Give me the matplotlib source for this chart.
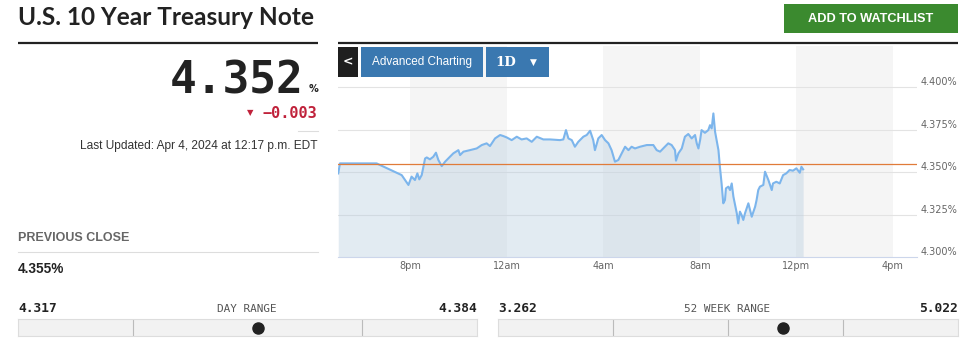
import matplotlib
matplotlib.use("Agg")
import matplotlib.pyplot as plt
from matplotlib.patches import Rectangle
from matplotlib.transforms import blended_transform_factory

# --- data (hours after 5pm Apr 3, yield in %) ---
t_hours = [0.01, 0.08, 1.60, 2.64, 2.92, 3.05, 3.19, 3.29, 3.37, 3.47, 3.61, 3.68,
           3.81, 3.95, 4.06, 4.16, 4.30, 4.44, 4.64, 4.78, 4.99, 5.06, 5.20, 5.47,
           5.75, 5.96, 6.16, 6.30, 6.51, 6.72, 6.85, 6.99, 7.20, 7.41, 7.61, 7.82,
           8.03, 8.24, 8.51, 8.79, 9.20, 9.34, 9.45, 9.55, 9.69, 9.82, 9.96, 10.17,
           10.31, 10.45, 10.58, 10.65, 10.79, 10.93, 11.07, 11.21, 11.34, 11.48,
           11.62, 11.76, 11.90, 12.04, 12.17, 12.31, 12.52, 12.80, 13.07, 13.21,
           13.35, 13.55, 13.69, 13.83, 13.97, 14.01, 14.11, 14.25, 14.38, 14.52,
           14.66, 14.80, 14.87, 14.94, 15.01, 15.07, 15.21, 15.35, 15.42, 15.49,
           15.56, 15.63, 15.77, 15.83, 15.90, 15.97, 16.04, 16.08, 16.18, 16.25,
           16.32, 16.39, 16.53, 16.59, 16.66, 16.73, 16.80, 16.87, 17.01, 17.15,
           17.29, 17.35, 17.42, 17.49, 17.63, 17.70, 17.84, 17.98, 18.03, 18.17,
           18.31, 18.45, 18.58, 18.72, 18.86, 19.00, 19.14, 19.21, 19.28]
yields = [4.3492, 4.3551, 4.3551, 4.3482, 4.3424, 4.3473, 4.3453, 4.3492, 4.3457,
          4.3482, 4.3580, 4.3586, 4.3575, 4.3590, 4.3614, 4.3571, 4.3535, 4.3561,
          4.3590, 4.3610, 4.3629, 4.3600, 4.3620, 4.3629, 4.3639, 4.3659, 4.3669,
          4.3653, 4.3698, 4.3718, 4.3712, 4.3704, 4.3688, 4.3708, 4.3692, 4.3698,
          4.3678, 4.3708, 4.3692, 4.3692, 4.3688, 4.3692, 4.3747, 4.3698, 4.3688,
          4.3649, 4.3678, 4.3708, 4.3718, 4.3743, 4.3688, 4.3629, 4.3698, 4.3718,
          4.3688, 4.3669, 4.3629, 4.3561, 4.3571, 4.3610, 4.3649, 4.3629, 4.3649,
          4.3639, 4.3649, 4.3659, 4.3659, 4.3629, 4.3620, 4.3649, 4.3669, 4.3659,
          4.3629, 4.3567, 4.3610, 4.3639, 4.3708, 4.3724, 4.3698, 4.3718, 4.3669,
          4.3639, 4.3688, 4.3747, 4.3731, 4.3747, 4.3776, 4.3757, 4.3845, 4.3737,
          4.3629, 4.3531, 4.3433, 4.3316, 4.3335, 4.3404, 4.3414, 4.3394, 4.3433,
          4.3355, 4.3257, 4.3198, 4.3267, 4.3247, 4.3218, 4.3257, 4.3316, 4.3237,
          4.3296, 4.3335, 4.3394, 4.3414, 4.3424, 4.3502, 4.3453, 4.3394, 4.3433,
          4.3443, 4.3433, 4.3482, 4.3492, 4.3512, 4.3508, 4.3522, 4.3496, 4.3531,
          4.3516]

prev_close = 4.355
last_price = 4.352
change = -0.003
day_low, day_high = 4.317, 4.384
wk52_low, wk52_high = 3.262, 5.022

tick_hours = [3, 7, 11, 15, 19, 23]
tick_labels = ["8pm", "12am", "4am", "8am", "12pm", "4pm"]
band_spans = [(3, 7), (11, 15), (19, 23)]
y_ticks = [4.300, 4.325, 4.350, 4.375, 4.400]

W, H = 971, 355
fig = plt.figure(figsize=(W / 100, H / 100), dpi=100)


def px_box(x0, y0, x1, y1):
    return [x0 / W, 1 - y1 / H, (x1 - x0) / W, (y1 - y0) / H]


# --- intraday chart ---
ax = fig.add_axes(px_box(338, 46, 917, 257))
ax.set_xlim(0, 24)
ax.set_ylim(4.300, 4.4242)
for a, b in band_spans:
    ax.axvspan(a, b, color="#f5f5f5", lw=0, zorder=0)
for v in y_ticks[1:]:
    ax.axhline(v, color="#e3e3e3", lw=0.8, zorder=1)
ax.fill_between(t_hours, yields, 4.300, color="#b8cde0", alpha=0.4, lw=0, zorder=2)
ax.plot(t_hours, yields, color="#7cb5ec", lw=1.5, zorder=3)
ax.axhline(prev_close, color="#e07b39", lw=0.9, zorder=4)

ax.set_xticks(tick_hours, labels=tick_labels)
ax.set_yticks([])
ax.tick_params(axis="x", length=0, pad=3, labelsize=7, labelcolor="#666666")
for s in ("top", "left", "right"):
    ax.spines[s].set_visible(False)
ax.spines["bottom"].set_color("#ccd6eb")
ax.spines["bottom"].set_linewidth(0.8)
ax.set_facecolor("white")
tr = blended_transform_factory(ax.transAxes, ax.transData)
for v in y_ticks:
    ax.text(1.006, v, f"{v:.3f}%", transform=tr, fontsize=7, color="#666666",
            va="bottom", ha="left", clip_on=False)


# --- range bars ---
def range_bar(x0, x1, lo, hi, dividers):
    rb = fig.add_axes(px_box(x0, 319, x1, 336), zorder=3)
    rb.set_xlim(lo, hi)
    rb.set_ylim(0, 1)
    rb.set_facecolor("#f2f2f2")
    for s in rb.spines.values():
        s.set_color("#dddddd")
        s.set_linewidth(0.8)
    rb.set_xticks([])
    rb.set_yticks([])
    for f in dividers:
        rb.axvline(lo + f * (hi - lo), color="#bbbbbb", lw=0.8)
    rb.plot([last_price], [0.5], "o", color="#222222", ms=8, clip_on=False)


range_bar(18, 477, day_low, day_high, [0.25, 0.75])
range_bar(498, 958, wk52_low, wk52_high, [0.25, 0.5, 0.75])

# --- page furniture (pixel coords) ---
ov = fig.add_axes([0, 0, 1, 1], zorder=5)
ov.set_xlim(0, W)
ov.set_ylim(H, 0)
ov.axis("off")
ov.patch.set_alpha(0)

ov.text(18, 25, "U.S. 10 Year Treasury Note", fontsize=17.6, fontweight="bold",
        family="Lato", color="#222222", va="baseline")
ov.plot([18, 318], [42.5, 42.5], color="#222222", lw=1.6, solid_capstyle="butt")
ov.plot([338, 958], [42.5, 42.5], color="#222222", lw=1.6, solid_capstyle="butt")

ov.add_patch(Rectangle((784, 4), 174, 29, color="#3b8a2f", lw=0))
ov.text(871, 19, "ADD TO WATCHLIST", fontsize=9.2, fontweight="bold", color="white",
        family="Liberation Sans", ha="center", va="center")

ov.text(304, 93, f"{last_price:.3f}", fontsize=32, fontweight="bold",
        family="DejaVu Sans Mono", color="#222222", ha="right", va="baseline")
ov.text(309, 92, "%", fontsize=7, fontweight="bold", color="#222222", va="baseline")
ov.text(253, 113, "\u25bc", fontsize=6, color="#c0223b", ha="right", va="center")
ov.text(317, 113, f"{change:.3f}".replace("-", "\u2212"), fontsize=11, fontweight="bold",
        family="DejaVu Sans Mono", color="#c0223b", ha="right", va="center")
ov.plot([298, 318], [130.5, 130.5], color="#dddddd", lw=0.8)
ov.text(317, 146, "Last Updated: Apr 4, 2024 at 12:17 p.m. EDT", fontsize=8.6,
        family="Liberation Sans", color="#333333", ha="right", va="center")

ov.text(18, 238, "PREVIOUS CLOSE", fontsize=9, fontweight="bold",
        family="Liberation Sans", color="#666666", va="center")
ov.plot([18, 318], [252, 252], color="#dddddd", lw=0.8)
ov.text(18, 269, f"{prev_close:.3f}%", fontsize=9.8, fontweight="bold",
        family="Liberation Sans", color="#222222", va="center")

# chart buttons
ov.add_patch(Rectangle((338, 47), 20, 30, color="#1f1f1f", lw=0))
ov.text(348, 62, "<", fontsize=9, fontweight="bold", color="white", ha="center", va="center")
ov.add_patch(Rectangle((361, 47), 122, 30, color="#3a78b0", lw=0))
ov.text(422, 62, "Advanced Charting", fontsize=8.5, family="Liberation Sans",
        color="white", ha="center", va="center")
ov.add_patch(Rectangle((486, 47), 63, 30, color="#3a78b0", lw=0))
ov.text(506, 62, "1D", fontsize=9.5, fontweight="bold", family="DejaVu Serif",
        color="white", ha="center", va="center")
ov.text(533, 62, "\u25bc", fontsize=6.5, color="white", ha="center", va="center")

# range labels
mono = "DejaVu Sans Mono"
ov.text(18, 308, f"{day_low:.3f}", fontsize=9.3, fontweight="bold", family=mono,
        color="#222222", va="center")
ov.text(247, 309, "DAY RANGE", fontsize=7.9, family=mono, color="#555555",
        ha="center", va="center")
ov.text(477, 308, f"{day_high:.3f}", fontsize=9.3, fontweight="bold", family=mono,
        color="#222222", ha="right", va="center")
ov.text(498, 308, f"{wk52_low:.3f}", fontsize=9.3, fontweight="bold", family=mono,
        color="#222222", va="center")
ov.text(727, 309, "52 WEEK RANGE", fontsize=7.9, family=mono, color="#555555",
        ha="center", va="center")
ov.text(958, 308, f"{wk52_high:.3f}", fontsize=9.3, fontweight="bold", family=mono,
        color="#222222", ha="right", va="center")

fig.savefig("out.png", dpi=100)
